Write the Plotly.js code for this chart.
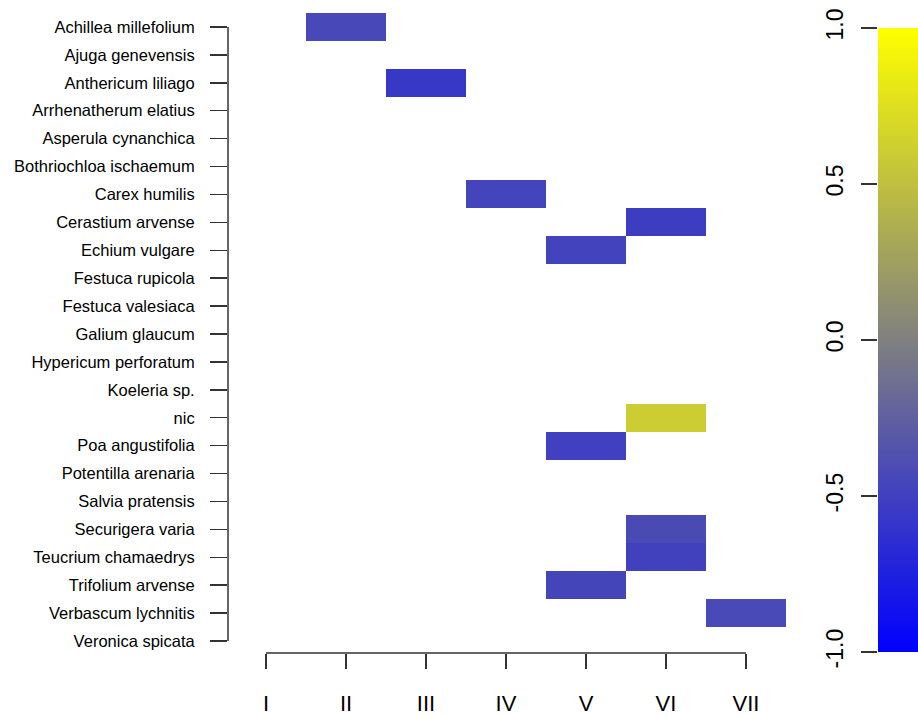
<!DOCTYPE html>
<html>
<head>
<meta charset="utf-8">
<script src="https://cdn.plot.ly/plotly-3.0.1.min.js"></script>
<style>html,body{margin:0;padding:0;background:#fff;}#chart{width:918px;height:717px;}</style>
</head>
<body>
<div id="chart"></div>
<script>
// ---- data ----
const species = [
  "Achillea millefolium", "Ajuga genevensis", "Anthericum liliago", "Arrhenatherum elatius",
  "Asperula cynanchica", "Bothriochloa ischaemum", "Carex humilis", "Cerastium arvense",
  "Echium vulgare", "Festuca rupicola", "Festuca valesiaca", "Galium glaucum",
  "Hypericum perforatum", "Koeleria sp.", "nic", "Poa angustifolia", "Potentilla arenaria",
  "Salvia pratensis", "Securigera varia", "Teucrium chamaedrys", "Trifolium arvense",
  "Verbascum lychnitis", "Veronica spicata"
];
const periods = ["I", "II", "III", "IV", "V", "VI", "VII"];
const cellSpecies = ["Achillea millefolium", "Anthericum liliago", "Carex humilis", "Cerastium arvense",
  "Echium vulgare", "nic", "Poa angustifolia", "Securigera varia", "Teucrium chamaedrys",
  "Trifolium arvense", "Verbascum lychnitis"];
const cellPeriod = ["II", "III", "IV", "VI", "V", "VI", "V", "VI", "VI", "V", "VII"];
const cellValue = [-0.44, -0.56, -0.47, -0.52, -0.48, 0.6, -0.5, -0.42, -0.49, -0.46, -0.43];
const colorbarTicks = [-1, -0.5, 0, 0.5, 1];
const colorbarTickText = ["-1.0", "-0.5", "0.0", "0.5", "1.0"];

// ---- build matrix ----
const xIdx = periods.map((p, i) => i + 1);
const z = species.map(() => periods.map(() => null));
cellSpecies.forEach((s, k) => {
  z[species.indexOf(s)][periods.indexOf(cellPeriod[k])] = cellValue[k];
});

const W = 918, H = 717;
const px = v => v / W, py = v => 1 - v / H;

const trace = {
  type: "heatmap",
  x: xIdx, y: species, z: z,
  zmin: -1, zmax: 1,
  colorscale: [[0, "#0000ff"], [0.5, "#808080"], [1, "#ffff00"]],
  hoverinfo: "skip",
  colorbar: {
    x: px(878), xanchor: "left", xpad: 0, ypad: 0,
    thickness: 40, thicknessmode: "pixels",
    len: 624, lenmode: "pixels",
    y: py(340), yanchor: "middle",
    outlinewidth: 0, showticklabels: false, ticks: ""
  }
};

// empty helper trace so the colour-bar scale axis gets drawn
const scaleAxisTrace = {type: "scatter", mode: "none", x: [], y: [], xaxis: "x3", yaxis: "y3", hoverinfo: "skip"};

const layout = {
  width: W, height: H,
  margin: {l: 0, r: 0, t: 0, b: 0},
  paper_bgcolor: "#fff", plot_bgcolor: "rgba(0,0,0,0)",
  showlegend: false,
  xaxis: {
    domain: [px(228), px(790)], range: [0.525, 7.55],
    anchor: "free", position: py(653),
    tickmode: "array", tickvals: xIdx, ticktext: periods,
    ticks: "outside", ticklen: 15, tickwidth: 1.5, tickcolor: "#333",
    showline: false, showgrid: false, zeroline: false,
    tickfont: {family: "Liberation Sans, Arial, sans-serif", size: 22, color: "#000"},
    ticklabelstandoff: 16, automargin: false, fixedrange: true
  },
  yaxis: {
    domain: [py(655), py(13)], autorange: "reversed",
    type: "category",
    ticks: "outside", ticklen: 17, tickwidth: 1.5, tickcolor: "#333",
    showline: false, showgrid: false, zeroline: false,
    tickfont: {family: "Liberation Sans, Arial, sans-serif", size: 16.5, color: "#000"},
    ticklabelstandoff: 12, automargin: false, fixedrange: true
  },
  xaxis3: {domain: [px(878), 1], anchor: "y3", visible: false, range: [0, 1], fixedrange: true},
  yaxis3: {
    domain: [py(652), py(28)], anchor: "x3", side: "left", range: [-1, 1],
    tickmode: "array", tickvals: colorbarTicks, ticktext: colorbarTickText,
    ticks: "outside", ticklen: 16, tickwidth: 1.5, tickcolor: "#333",
    tickangle: -90, tickfont: {family: "Liberation Sans, Arial, sans-serif", size: 23, color: "#000"},
    showline: false, showgrid: false, zeroline: false,
    ticklabelstandoff: 9, automargin: false, fixedrange: true
  },
  shapes: [
    {type: "line", xref: "paper", yref: "y", x0: px(228), x1: px(228),
     y0: species[0], y1: species[species.length - 1], line: {color: "#333", width: 1.5}},
    {type: "line", xref: "x", yref: "paper", x0: xIdx[0], x1: xIdx[xIdx.length - 1],
     y0: py(653), y1: py(653), line: {color: "#333", width: 1.5}}
  ]
};

Plotly.newPlot("chart", [trace, scaleAxisTrace], layout, {displayModeBar: false, staticPlot: true});
</script>
</body>
</html>
